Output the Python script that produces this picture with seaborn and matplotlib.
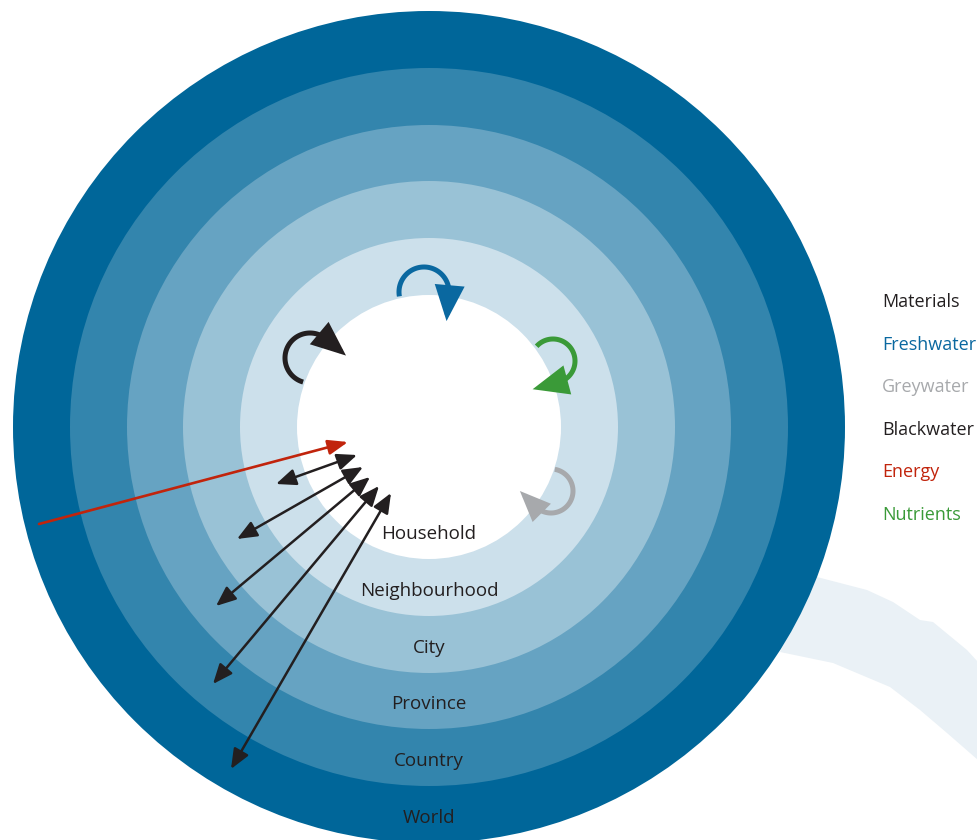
import numpy as np
import matplotlib
matplotlib.use("Agg")
import matplotlib.pyplot as plt
from matplotlib.patches import Circle, Polygon, FancyArrowPatch
from matplotlib.path import Path
import seaborn as sns

# ---------------- data ----------------
levels = ["Household", "Neighbourhood", "City", "Province", "Country", "World"]
ring_radii = [132, 189, 246, 302, 359, 416]          # outer radius of each level (px)
center = (429, 427)

flow_names = ["Materials", "Freshwater", "Greywater", "Blackwater", "Energy", "Nutrients"]
flow_colors = ["#231f20", "#0a68a0", "#a7a9ac", "#231f20", "#c1240c", "#3a9a38"]

# curl (local cycle) arrows: centre x, centre y, radius, start angle, end angle, colour
curl_cx = [310, 424, 553, 551]
curl_cy = [358, 292, 361, 491]
curl_r = [25, 25, 22, 22]
curl_start = [254, 190, 138, 80]
curl_end = [50, -5, -75, -135]
curl_color = ["#231f20", "#0a68a0", "#3a9a38", "#a7a9ac"]
curl_head = [26, 27, 27, 22]

# energy import arrow
energy_from = (39, 524)
energy_to = (348, 442)

# two-way material exchanges with larger scales
exch_inner_x = [357, 363, 370, 379, 391]
exch_inner_y = [455, 467, 477, 486, 493]
exch_outer_x = [276, 237, 216, 213, 231]
exch_outer_y = [484, 539, 606, 684, 769]

# faint background brush band
band_x = [817, 867, 893, 920, 933, 967, 978, 978, 947, 920, 890, 833, 780]
band_y = [577, 590, 602, 620, 622, 650, 662, 760, 733, 710, 687, 663, 652]

# ---------------- figure ----------------
sns.set_style("white")
plt.rcParams["font.family"] = ["Open Sans", "DejaVu Sans"]

W, H = 978, 840
fig = plt.figure(figsize=(W / 100, H / 100), dpi=100)
ax = fig.add_axes([0, 0, 1, 1])
ax.set_xlim(0, W)
ax.set_ylim(H, 0)
ax.axis("off")

ax.add_patch(Polygon(np.column_stack([band_x, band_y]), closed=True,
                     facecolor="#eaf1f6", edgecolor="none", zorder=0))

ring_colors = sns.blend_palette(["#ffffff", "#006699"], len(levels))
for r, c in sorted(zip(ring_radii, ring_colors), key=lambda t: -t[0]):
    ax.add_patch(Circle(center, r, facecolor=c, edgecolor="none", zorder=1))

text_dark = "#231f20"
for lab, r in zip(levels, ring_radii):
    ax.text(center[0], center[1] + r - 20, lab, ha="center", va="baseline",
            fontsize=13.5, color=text_dark, zorder=5)

# legend texts
for i, (n, c) in enumerate(zip(flow_names, flow_colors)):
    ax.text(882, 307 + 42.6 * i, n, ha="left", va="baseline", fontsize=13, color=c, zorder=5)

# curl arrows
for cx, cy, r, a0, a1, col, hl in zip(curl_cx, curl_cy, curl_r, curl_start, curl_end, curl_color, curl_head):
    t = np.radians(np.linspace(a0, a1, 80))
    xs = cx + r * np.cos(t)
    ys = cy - r * np.sin(t)
    te = np.radians(a1)
    tx, ty = np.sin(te), np.cos(te)
    verts = np.column_stack([np.append(xs, xs[-1] + hl * tx), np.append(ys, ys[-1] + hl * ty)])
    p = FancyArrowPatch(path=Path(verts), arrowstyle=f"-|>,head_length={hl*0.72:.1f},head_width={hl*0.3:.1f}",
                        mutation_scale=1, lw=3.6, color=col, zorder=6, joinstyle="miter", capstyle="butt")
    ax.add_patch(p)

# energy arrow
ax.add_patch(FancyArrowPatch(energy_from, energy_to, arrowstyle="-|>,head_length=12,head_width=4.5",
                             mutation_scale=1, lw=1.9, color=flow_colors[4], shrinkA=0, shrinkB=0, zorder=6))

# exchange arrows
for xi, yi, xo, yo in zip(exch_inner_x, exch_inner_y, exch_outer_x, exch_outer_y):
    ax.add_patch(FancyArrowPatch((xo, yo), (xi, yi), arrowstyle="<|-|>,head_length=12,head_width=5",
                                 mutation_scale=1, lw=1.8, color=text_dark, shrinkA=0, shrinkB=0, zorder=6))

fig.savefig("out.png", dpi=100)
